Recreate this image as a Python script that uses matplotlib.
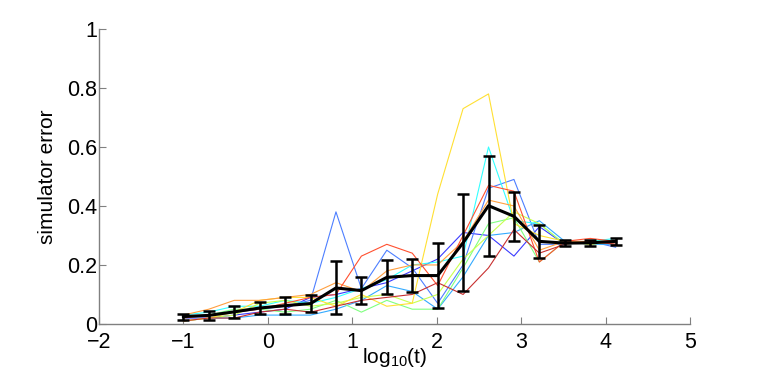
import matplotlib
matplotlib.use("Agg")
import matplotlib.pyplot as plt

plt.rcParams['font.family'] = ['Liberation Sans', 'DejaVu Sans']
plt.rcParams['mathtext.fontset'] = 'custom'
plt.rcParams['mathtext.rm'] = 'Liberation Sans'
plt.rcParams['mathtext.it'] = 'Liberation Sans'
plt.rcParams['mathtext.default'] = 'rm'

# log10(t) positions
x = [-1.0, -0.699, -0.398, -0.097, 0.204, 0.505, 0.806, 1.107, 1.408,
     1.709, 2.010, 2.311, 2.612, 2.913, 3.214, 3.515, 3.816, 4.117]

# individual runs
run_darkblue = [0.02, 0.02, 0.03, 0.04, 0.05, 0.09, 0.10, 0.12, 0.14, 0.18, 0.22, 0.31, 0.30, 0.23, 0.33, 0.27, 0.28, 0.28]
run_blue = [0.02, 0.03, 0.04, 0.05, 0.06, 0.08, 0.38, 0.12, 0.25, 0.19, 0.07, 0.20, 0.46, 0.49, 0.27, 0.27, 0.28, 0.26]
run_lightblue = [0.01, 0.02, 0.02, 0.03, 0.03, 0.03, 0.05, 0.08, 0.13, 0.11, 0.05, 0.16, 0.30, 0.31, 0.35, 0.28, 0.27, 0.27]
run_cyan = [0.03, 0.04, 0.06, 0.06, 0.08, 0.07, 0.09, 0.12, 0.15, 0.20, 0.21, 0.23, 0.60, 0.35, 0.34, 0.27, 0.28, 0.29]
run_green = [0.02, 0.03, 0.05, 0.05, 0.04, 0.05, 0.08, 0.04, 0.08, 0.05, 0.05, 0.19, 0.34, 0.36, 0.21, 0.28, 0.27, 0.28]
run_yellowgreen = [0.01, 0.02, 0.03, 0.07, 0.08, 0.06, 0.07, 0.09, 0.10, 0.07, 0.10, 0.22, 0.30, 0.38, 0.34, 0.27, 0.28, 0.28]
run_yellow = [0.01, 0.02, 0.04, 0.08, 0.09, 0.09, 0.06, 0.10, 0.06, 0.07, 0.44, 0.73, 0.78, 0.34, 0.30, 0.28, 0.27, 0.28]
run_orange = [0.03, 0.05, 0.08, 0.08, 0.09, 0.10, 0.14, 0.11, 0.18, 0.20, 0.20, 0.28, 0.42, 0.40, 0.25, 0.28, 0.28, 0.27]
run_red = [0.02, 0.03, 0.04, 0.05, 0.07, 0.09, 0.10, 0.23, 0.27, 0.24, 0.13, 0.30, 0.47, 0.45, 0.21, 0.28, 0.29, 0.28]
run_darkred = [0.01, 0.02, 0.02, 0.04, 0.05, 0.04, 0.06, 0.08, 0.09, 0.10, 0.14, 0.10, 0.19, 0.32, 0.24, 0.27, 0.28, 0.27]

# mean and error bars
mean_err = [0.025, 0.029, 0.041, 0.054, 0.062, 0.069, 0.122, 0.113, 0.158, 0.164,
            0.164, 0.275, 0.401, 0.365, 0.280, 0.274, 0.275, 0.280]
std_err = [0.010, 0.014, 0.020, 0.020, 0.028, 0.028, 0.090, 0.047, 0.058, 0.057,
           0.110, 0.165, 0.170, 0.083, 0.057, 0.010, 0.010, 0.013]

runs = [run_darkblue, run_blue, run_lightblue, run_cyan, run_green,
        run_yellowgreen, run_yellow, run_orange, run_red, run_darkred]
colors = ['#3a3aff', '#4d7fff', '#33aaff', '#33ffff', '#80ff80',
          '#c8ff50', '#ffe033', '#ffa040', '#ff5030', '#c83030']

fig = plt.figure(figsize=(7.61, 3.82), dpi=100)
ax = fig.add_axes([0.130, 0.152, 0.777, 0.772])

for r, c in zip(runs, colors):
    ax.plot(x, r, color=c, lw=0.8)

ax.errorbar(x, mean_err, yerr=std_err, color='black', lw=2.2,
            elinewidth=1.8, capsize=4, capthick=1.8)

ax.set_xlim(-2, 5)
ax.set_ylim(0, 1)
ax.set_xticks([-2, -1, 0, 1, 2, 3, 4, 5])
ax.set_xticklabels(['\u22122', '\u22121', '0', '1', '2', '3', '4', '5'])
ax.set_yticks([0, 0.2, 0.4, 0.6, 0.8, 1])
ax.set_yticklabels(['0', '0.2', '0.4', '0.6', '0.8', '1'])

for s in ['top', 'right']:
    ax.spines[s].set_visible(False)
for s in ['left', 'bottom']:
    ax.spines[s].set_color('#808080')
    ax.spines[s].set_linewidth(1.0)
ax.tick_params(direction='in', length=5, color='#808080', labelsize=15.5,
               labelcolor='black')
ax.tick_params(axis='y', pad=1.5)
ax.tick_params(axis='x', pad=6)

ax.set_xlabel('log$_{10}$(t)', fontsize=15, labelpad=-5)
ax.set_ylabel('simulator error', fontsize=15, labelpad=7)

fig.savefig('out.png', dpi=100)
